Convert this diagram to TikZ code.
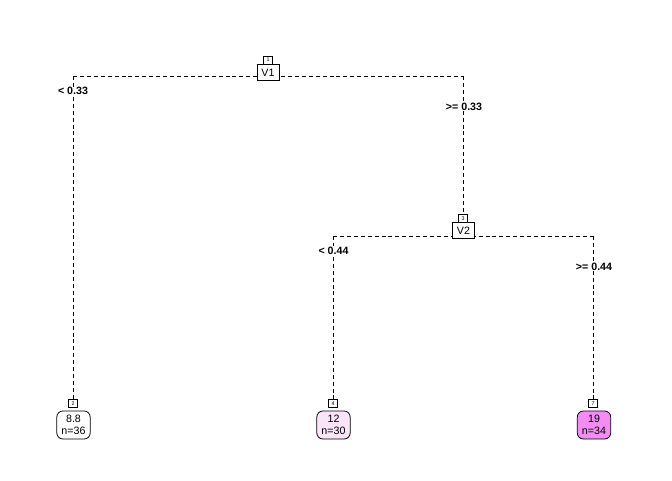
\documentclass[tikz,border=0pt]{standalone}
\usepackage{fontspec}
\setmainfont{Liberation Sans}
\definecolor{leafA}{RGB}{255,255,255}
\definecolor{leafB}{RGB}{250,228,250}
\definecolor{leafC}{RGB}{244,140,244}
\tikzset{
  edge/.style={draw=black, dashed, dash pattern=on 3pt off 2.2pt, line width=0.6pt},
  splitbox/.style={draw=black, fill=white, line width=0.6pt, minimum width=16.5pt, minimum height=12pt, inner sep=0pt, font=\fontsize{8}{8}\selectfont},
  numbox/.style={draw=black, fill=white, line width=0.5pt, minimum width=6.5pt, minimum height=6pt, inner sep=0pt, font=\fontsize{4}{4}\selectfont},
  leafbox/.style={draw=black, line width=0.6pt, rounded corners=4.5pt, minimum width=25pt, minimum height=21pt, inner sep=0pt, align=center, font=\fontsize{8}{9}\selectfont},
  lab/.style={fill=white, inner sep=0.5pt, font=\bfseries\fontsize{8}{8}\selectfont}
}
\begin{document}
\begin{tikzpicture}[x=0.75pt, y=-0.75pt]
\useasboundingbox (0,0) rectangle (672,480);
% coordinates
\coordinate (hL1) at (73,76);
\coordinate (hR1) at (463,76);
\coordinate (hL2) at (333,236);
\coordinate (hR2) at (593,236);
% number boxes
\node[numbox] (n2) at (73,403.5) {2};
\node[numbox] (n4) at (333,403.5) {4};
\node[numbox] (n7) at (593,403.5) {7};
\node[numbox] (n3) at (463,218.5) {3};
\node[numbox] (n1) at (268,60) {1};
% edges
\draw[edge] (hL1) -- (hR1);
\draw[edge] (hL1) -- (n2.north);
\draw[edge] (hR1) -- (n3.north);
\draw[edge] (hL2) -- (hR2);
\draw[edge] (hL2) -- (n4.north);
\draw[edge] (hR2) -- (n7.north);
% split nodes
\node[splitbox] (v1) at (268,72.5) {V1};
\node[splitbox] (v2) at (463.5,230.5) {V2};
% leaves
\node[leafbox, fill=leafA] (l1) at (73.5,425) {8.8\\n=36};
\node[leafbox, fill=leafB] (l2) at (333.5,425) {12\\n=30};
\node[leafbox, fill=leafC] (l3) at (594,425) {19\\n=34};
% redraw number boxes on top
\node[numbox] at (n2) {2};
\node[numbox] at (n4) {4};
\node[numbox] at (n7) {7};
\node[numbox] at (n3) {3};
\node[numbox] at (n1) {1};
% labels
\node[lab] (e1) at (73,91) {< 0.33};
\node[lab] (e2) at (464,106.5) {>= 0.33};
\node[lab] (e3) at (333.5,250.5) {< 0.44};
\node[lab] (e4) at (594,267) {>= 0.44};
\end{tikzpicture}
\end{document}
